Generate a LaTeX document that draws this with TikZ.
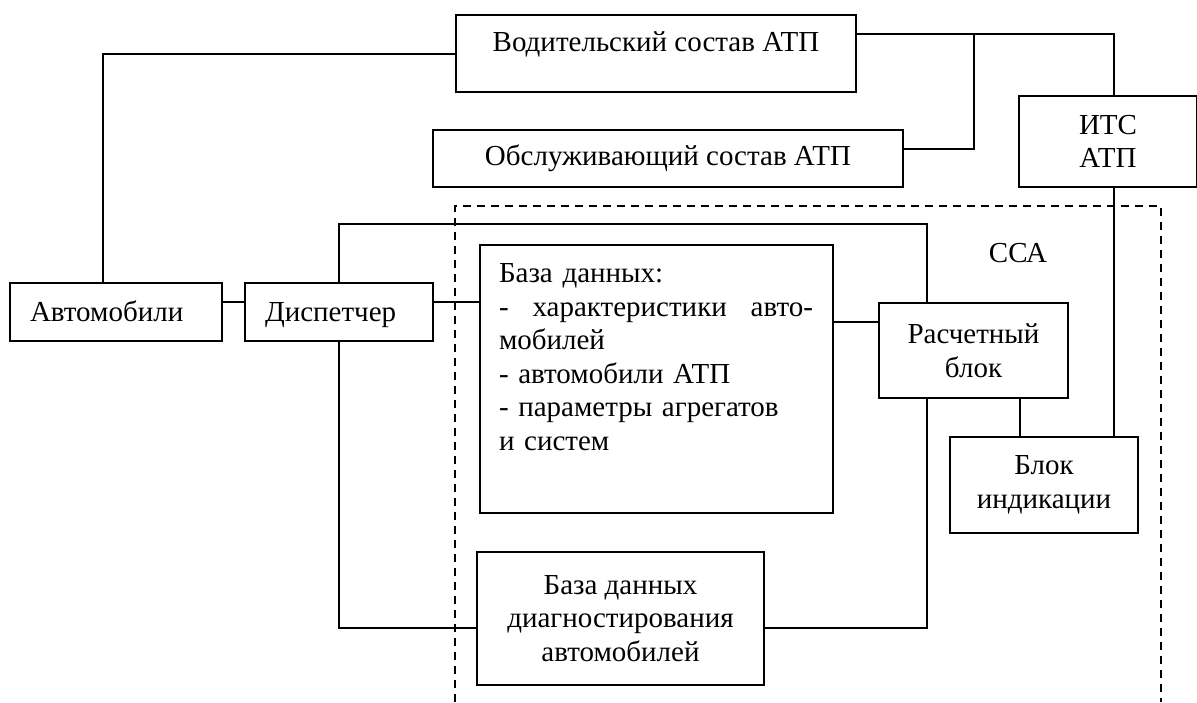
\documentclass[tikz,border=0pt]{standalone}
\usepackage{fontspec}
\setmainfont{Liberation Serif}

\begin{document}
\begin{tikzpicture}[x=0.5pt,y=-0.5pt,line width=1pt,
    every node/.style={font=\fontsize{14.5}{16.75}\selectfont},
    box/.style={draw,anchor=north west,inner sep=0pt,align=center},
    leftbox/.style={box,align=left,inner xsep=10pt,text height=9.5pt,text depth=0pt},
    frame/.style={dash pattern=on 4pt off 3pt}]
  \useasboundingbox (0,0) rectangle (1197,702);

  % staff of the ATP
  \node[box,minimum width=200pt,minimum height=38.5pt,text height=14pt,text depth=16.5pt] (vod) at (455,14) {Водительский состав АТП};
  \node[box,minimum width=235pt,minimum height=28.5pt] (obs) at (432,129) {Обслуживающий состав АТП};
  \node[box,minimum width=89pt,minimum height=45.5pt] (its) at (1018,95) {ИТС\\АТП};

  \node[leftbox,text width=86pt,minimum height=29pt] (avto) at (9,282) {Автомобили};
  \node[leftbox,text width=74pt,minimum height=29pt] (disp) at (244,282) {Диспетчер};

  % inside the CCA frame
  \draw[frame] (455,702) |- (1161,206) -- (1161,702);
  \node (cca) at (1018,253) {ССА};
  \node[box,minimum width=176.5pt,minimum height=134pt] (bd) at (479,244) {};
  \node[anchor=north west,inner sep=0pt,text width=157pt,align=left] (bdtext) at ([xshift=9.5pt,yshift=-9.5pt]bd.north west)
    {База данных:\\\makebox[157pt][l]{-\hfill характеристики\hfill авто-}\\мобилей\\- автомобили АТП\\- параметры агрегатов\\и систем};
  \node[box,minimum width=94.5pt,minimum height=47.5pt] (ras) at (878,302) {Расчетный\\блок};
  \node[box,minimum width=94pt,minimum height=48pt] (ind) at (949,436) {Блок\\индикации};
  \node[box,minimum width=143.5pt,minimum height=66.5pt] (diag) at (476,551) {База данных\\диагностирования\\автомобилей};

  % links
  \draw ([xshift=47pt]avto.north west) |- (vod.west);
  \draw ([yshift=5pt]avto.east) -- ([yshift=5pt]disp.west);
  \coordinate (dout) at ([yshift=5pt]disp.east);
  \draw (dout) -- (dout -| bd.west);
  \draw ([yshift=9.75pt]vod.east) -- ++(117,0) coordinate (j1) -| ([xshift=3pt]its.north);
  \draw (j1) |- ([yshift=4.75pt]obs.east);
  \coordinate (itsdown) at ([xshift=3pt]its.south);
  \draw (itsdown) -- (itsdown |- ind.north);
  \draw (disp.north) -- ++(0,-58) -| ([xshift=-23.25pt]ras.north);
  \coordinate (rin) at ([yshift=14.25pt]ras.west);
  \draw (bd.east |- rin) -- (rin);
  \coordinate (rs) at ([xshift=23.25pt]ras.south);
  \draw (rs) -- (rs |- ind.north);
  \draw ([xshift=-23.25pt]ras.south) |- ([yshift=-4.75pt]diag.east);
  \draw (disp.south) |- ([yshift=-4.75pt]diag.west);
\end{tikzpicture}
\end{document}
